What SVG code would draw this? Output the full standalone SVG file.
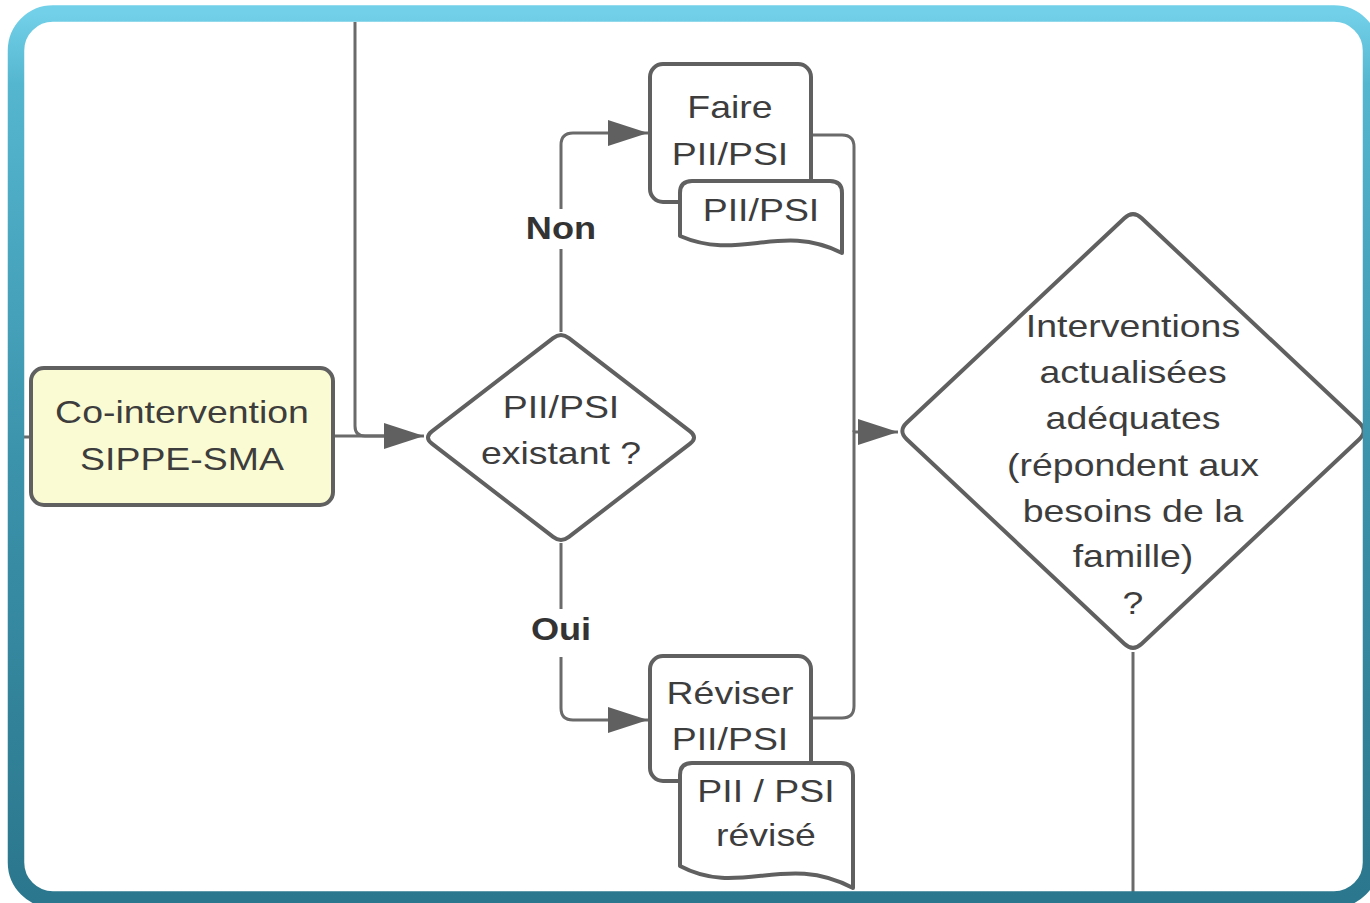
<svg xmlns="http://www.w3.org/2000/svg" width="1370" height="903" viewBox="0 0 1370 903">
  <defs>
    <linearGradient id="frameGrad" x1="0" y1="0" x2="0" y2="1">
      <stop offset="0" stop-color="#72d0e8"/>
      <stop offset="0.08" stop-color="#55b6d0"/>
      <stop offset="0.5" stop-color="#3b93ab"/>
      <stop offset="1" stop-color="#2b778d"/>
    </linearGradient>
    <marker id="arrow" markerUnits="userSpaceOnUse" markerWidth="40" markerHeight="26" refX="40" refY="13" orient="auto">
      <path d="M0,0 L40,13 L0,26 Z" fill="#606060"/>
    </marker>
    <style>
      .shape { fill: #ffffff; stroke: #606060; stroke-width: 4; stroke-linejoin: round; }
      .start { fill: #fbfbd3; }
      .wire { fill: none; stroke: #6a6a6a; stroke-width: 3; }
      .lbl { font-family: "Liberation Sans", Arial, sans-serif; font-size: 32px; fill: #3d3d3d; text-anchor: middle; }
      .bold { font-weight: bold; fill: #333333; }
    </style>
  </defs>

  <rect width="1370" height="903" fill="#ffffff"/>

  <!-- connectors -->
  <g id="connectors">
    <path class="wire" d="M24,437 H30"/>
    <path class="wire" d="M355,22 V426 Q355,436 365,436 H390"/>
    <path class="wire" d="M333,436 H424" marker-end="url(#arrow)"/>
    <path class="wire" d="M561,332 V145 Q561,133 573,133 H648" marker-end="url(#arrow)"/>
    <path class="wire" d="M561,543 V708 Q561,720 573,720 H648" marker-end="url(#arrow)"/>
    <path class="wire" d="M811,135 H842 Q854,135 854,147 V432"/>
    <path class="wire" d="M811,718 H842 Q854,718 854,706 V432 H898" marker-end="url(#arrow)"/>
    <path class="wire" d="M1133,652 V892"/>
    <!-- branch labels -->
    <g id="label-non">
      <rect x="535" y="209" width="52" height="40" fill="#ffffff"/>
      <text class="lbl bold" transform="translate(561,239) scale(1.13 1)">Non</text>
    </g>
    <g id="label-oui">
      <rect x="535" y="609" width="52" height="48" fill="#ffffff"/>
      <text class="lbl bold" transform="translate(561,640) scale(1.13 1)">Oui</text>
    </g>
  </g>

  <!-- start: co-intervention -->
  <g id="node-cointervention">
    <rect class="shape start" x="31" y="368" width="302" height="137" rx="13"/>
    <text class="lbl" transform="translate(182,423) scale(1.17 1)">Co-intervention</text>
    <text class="lbl" transform="translate(182,470) scale(1.17 1)">SIPPE-SMA</text>
  </g>

  <!-- decision: existing plan -->
  <g id="node-existant">
    <path class="shape" d="M568.9,338.1 L690.1,431.4 Q698,437.5 690.1,443.6 L568.9,536.9 Q561,543 553.1,536.9 L431.9,443.6 Q424,437.5 431.9,431.4 L553.1,338.1 Q561,332 568.9,338.1 Z"/>
    <text class="lbl" transform="translate(561,418) scale(1.17 1)">PII/PSI</text>
    <text class="lbl" transform="translate(561,464) scale(1.17 1)">existant ?</text>
  </g>

  <!-- process: create plan -->
  <g id="node-faire">
    <rect class="shape" x="650" y="64" width="161" height="138" rx="13"/>
    <text class="lbl" transform="translate(730,118) scale(1.17 1)">Faire</text>
    <text class="lbl" transform="translate(730,165) scale(1.17 1)">PII/PSI</text>
  </g>

  <!-- document: plan -->
  <g id="node-doc-pii">
    <path class="shape" d="M680,236 V193 Q680,181 692,181 H830 Q842,181 842,193 V253 C 780,222 740,262 680,236 Z"/>
    <text class="lbl" transform="translate(761,221) scale(1.17 1)">PII/PSI</text>
  </g>

  <!-- process: revise plan -->
  <g id="node-reviser">
    <rect class="shape" x="650" y="656" width="161" height="125" rx="13"/>
    <text class="lbl" transform="translate(730,704) scale(1.17 1)">Réviser</text>
    <text class="lbl" transform="translate(730,750) scale(1.17 1)">PII/PSI</text>
  </g>

  <!-- document: revised plan -->
  <g id="node-doc-revise">
    <path class="shape" d="M680,866 V775 Q680,763 692,763 H841 Q853,763 853,775 V888 C 785,852 740,898 680,866 Z"/>
    <text class="lbl" transform="translate(766,802) scale(1.17 1)">PII / PSI</text>
    <text class="lbl" transform="translate(766,846) scale(1.17 1)">révisé</text>
  </g>

  <!-- decision: interventions adequate -->
  <g id="node-adequates">
    <path class="shape" d="M1141.7,218.2 L1359.3,422.8 Q1368,431 1359.3,439.2 L1141.7,643.8 Q1133,652 1124.3,643.8 L906.7,439.2 Q898,431 906.7,422.8 L1124.3,218.2 Q1133,210 1141.7,218.2 Z"/>
    <text class="lbl" transform="translate(1133,337) scale(1.17 1)">Interventions</text>
    <text class="lbl" transform="translate(1133,383) scale(1.17 1)">actualisées</text>
    <text class="lbl" transform="translate(1133,429) scale(1.17 1)">adéquates</text>
    <text class="lbl" transform="translate(1133,476) scale(1.17 1)">(répondent aux</text>
    <text class="lbl" transform="translate(1133,522) scale(1.17 1)">besoins de la</text>
    <text class="lbl" transform="translate(1133,567) scale(1.17 1)">famille)</text>
    <text class="lbl" transform="translate(1133,614) scale(1.17 1)">?</text>
  </g>

  <!-- rounded outer frame -->
  <g id="frame">
    <rect x="16" y="13.5" width="1355" height="886" rx="37" fill="none" stroke="url(#frameGrad)" stroke-width="16.5"/>
  </g>
</svg>
